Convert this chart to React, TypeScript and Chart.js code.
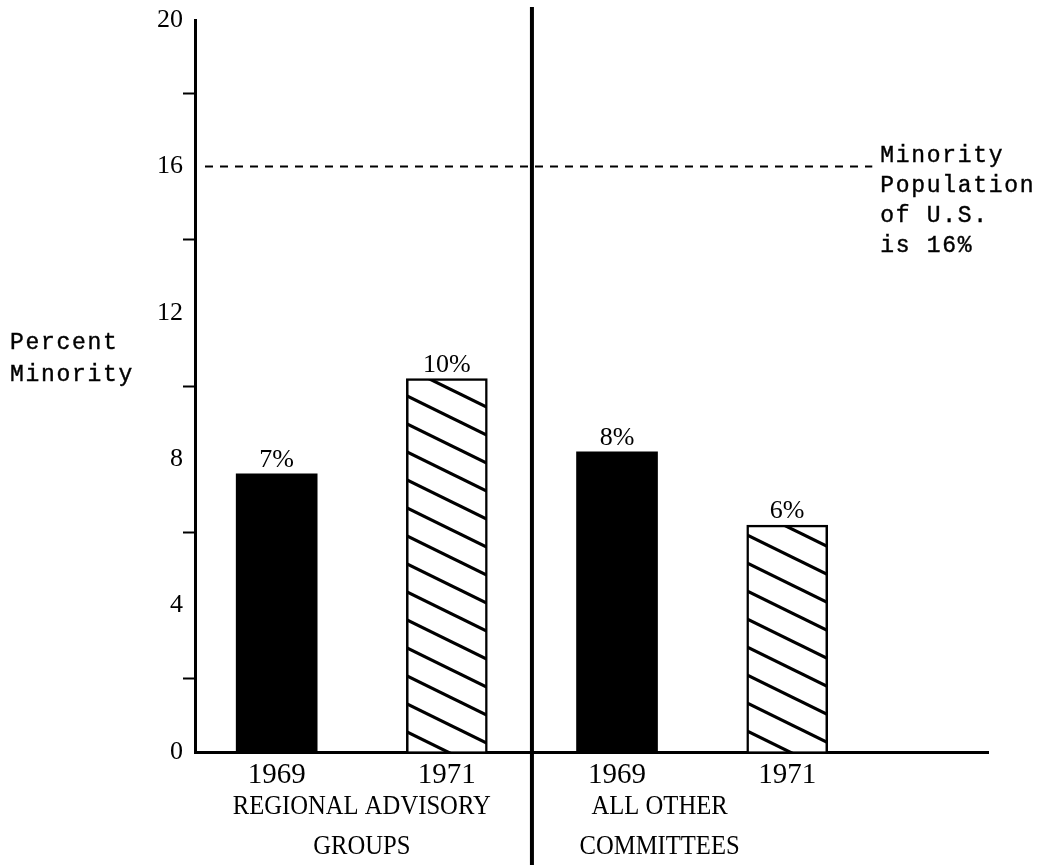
import React, { useEffect, useRef } from "react";
import { Chart, registerables } from "chart.js";

Chart.register(...registerables);

// ---- data ----
const years = ["1969", "1971", "1969", "1971"];
const percentMinority = [7.6, 10.2, 8.2, 6.2];
const valueLabels = ["7%", "10%", "8%", "6%"];
const hatched = [false, true, false, true];
const groupLabels = [
  ["REGIONAL ADVISORY", "GROUPS"],
  ["ALL OTHER", "COMMITTEES"],
];
const referenceValue = 16;
const referenceLabel = ["Minority", "Population", "of U.S.", "is 16%"];
const yTitle = ["Percent", "Minority"];
const yMin = 0;
const yMax = 20;
const yStep = 2;
const yLabelEvery = 4;

function makeHatch(): CanvasPattern | string {
  const W = 57;
  const H = 28;
  const c = document.createElement("canvas");
  c.width = W;
  c.height = H;
  const g = c.getContext("2d");
  if (!g) return "#fff";
  g.fillStyle = "#fff";
  g.fillRect(0, 0, W, H);
  g.strokeStyle = "#000";
  g.lineWidth = 3.2;
  const s = H / W;
  for (const off of [-H, 0, H]) {
    g.beginPath();
    g.moveTo(-4, off - 4 * s);
    g.lineTo(W + 4, off + H + 4 * s);
    g.stroke();
  }
  return g.createPattern(c, "repeat") || "#fff";
}

function typeText(ctx: CanvasRenderingContext2D, t: string, x: number, y: number) {
  ctx.fillText(t, x, y);
  ctx.lineWidth = 0.4;
  ctx.strokeText(t, x, y);
}

const decorPlugin = {
  id: "decor",
  afterDatasetsDraw(chart: any) {
    const { ctx, chartArea, scales } = chart;
    const x = scales.x;
    const y = scales.y;
    ctx.save();
    ctx.fillStyle = "#000";
    ctx.strokeStyle = "#000";

    // value labels above bars
    ctx.font = "26px 'Liberation Serif'";
    ctx.textAlign = "center";
    ctx.textBaseline = "middle";
    const meta = chart.getDatasetMeta(0);
    meta.data.forEach((bar: any, i: number) => {
      ctx.fillText(valueLabels[i], bar.x, bar.y - 14);
    });

    // reference dashed line
    const yRef = y.getPixelForValue(referenceValue);
    const dashEnd = x.getPixelForValue(3.5);
    ctx.beginPath();
    ctx.setLineDash([8, 7]);
    ctx.lineWidth = 2;
    ctx.moveTo(chartArea.left + 10, yRef);
    ctx.lineTo(dashEnd, yRef);
    ctx.stroke();
    ctx.setLineDash([]);

    // divider between the two groups
    const divX = (x.getPixelForValue(1) + x.getPixelForValue(2)) / 2;
    ctx.beginPath();
    ctx.lineWidth = 4;
    ctx.moveTo(divX, 7);
    ctx.lineTo(divX, chart.height);
    ctx.stroke();

    // reference annotation
    ctx.font = "23px 'Liberation Mono'";
    (ctx as any).letterSpacing = "1.7px";
    ctx.textAlign = "left";
    referenceLabel.forEach((t, i) => {
      typeText(ctx, t, dashEnd + 8, yRef - 10 + i * 30);
    });

    // y title
    yTitle.forEach((t, i) => {
      typeText(ctx, t, 10, 343 + i * 32);
    });
    (ctx as any).letterSpacing = "0px";

    // group labels
    ctx.font = "28px 'Liberation Serif'";
    ctx.textAlign = "center";
    const centers = [x.getPixelForValue(0.5), x.getPixelForValue(2.25)];
    groupLabels.forEach((lines, g) => {
      lines.forEach((t, i) => {
        ctx.save();
        ctx.translate(centers[g], 807 + i * 40);
        ctx.scale(0.88, 1);
        ctx.fillText(t, 0, 0);
        ctx.restore();
      });
    });
    ctx.restore();
  },
};

export default function App() {
  const ref = useRef<HTMLCanvasElement>(null);

  useEffect(() => {
    const canvas = ref.current;
    if (!canvas) return;
    const hatch = makeHatch();
    const chart = new Chart(canvas, {
      type: "bar",
      data: {
        datasets: [
          {
            data: percentMinority.map((v, i) => ({ x: i, y: v })),
            backgroundColor: hatched.map((h) => (h ? hatch : "#000")) as any,
            borderColor: "#000",
            borderWidth: hatched.map((h) => (h ? 2.5 : 0)),
            barThickness: 81,
          },
        ],
      },
      options: {
        animation: false,
        responsive: false,
        layout: { padding: { top: 20, right: 61, left: 0, bottom: 0 } },
        plugins: { legend: { display: false }, tooltip: { enabled: false } },
        scales: {
          x: {
            type: "linear",
            min: -0.48,
            max: 4.18,
            offset: false,
            bounds: "data",
            grace: 0,
            afterFit: (s: any) => {
              s.height = 113;
            },
            afterBuildTicks: (s: any) => {
              s.ticks = years.map((_, i) => ({ value: i }));
            },
            border: { display: true, color: "#000", width: 3 },
            grid: { display: true, offset: false, drawOnChartArea: false, drawTicks: false },
            ticks: {
              autoSkip: false,
              includeBounds: false,
              maxRotation: 0,
              padding: 6,
              color: "#000",
              font: { family: "'Liberation Serif'", size: 29 },
              callback: (_v: any, i: number) => years[i],
            },
          },
          y: {
            min: yMin,
            max: yMax,
            afterFit: (s: any) => {
              s.width = 195;
            },
            border: { display: true, color: "#000", width: 3 },
            grid: {
              display: true,
              drawOnChartArea: false,
              drawTicks: true,
              tickLength: 12,
              tickWidth: 2,
              tickColor: (c: any) =>
                c.tick && c.tick.value % yLabelEvery === yStep ? "#000" : "rgba(0,0,0,0)",
            },
            ticks: {
              stepSize: yStep,
              padding: 0,
              color: "#000",
              font: { family: "'Liberation Serif'", size: 26 },
              callback: (v: any) => (Number(v) % yLabelEvery === 0 ? String(v) : ""),
            },
          },
        },
      },
      plugins: [decorPlugin],
    } as any);
    return () => chart.destroy();
  }, []);

  return (
    <div
      style={{
        position: "absolute",
        left: 0,
        top: 0,
        width: 1049,
        height: 865,
        background: "#fff",
      }}
    >
      <canvas
        ref={ref}
        width={1049}
        height={865}
        style={{ display: "block", width: 1049, height: 865 }}
      />
    </div>
  );
}
